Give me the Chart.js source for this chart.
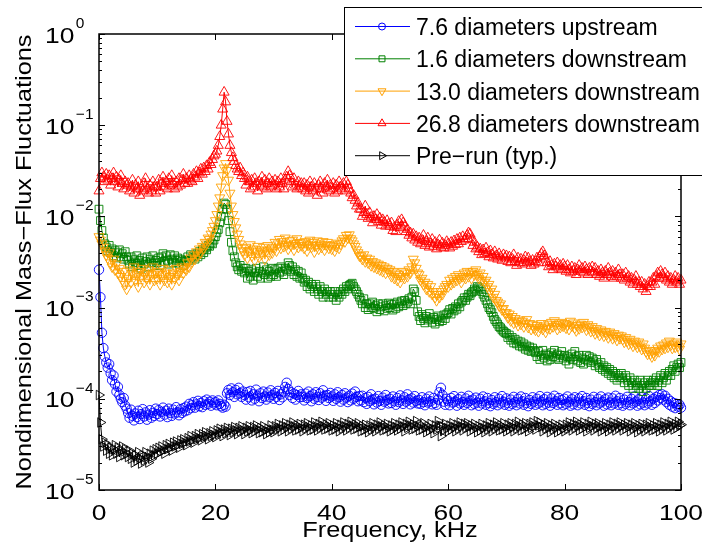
<!DOCTYPE html>
<html><head><meta charset="utf-8">
<script src="https://cdn.jsdelivr.net/npm/chart.js@4.4.1/dist/chart.umd.min.js"></script>
<style>html,body{margin:0;padding:0;background:#fff;}#wrap{width:702px;height:553px;position:relative;}</style>
</head><body><div id="wrap"><canvas id="c" width="702" height="553"></canvas></div>
<script>
// Frequency grid, kHz
const freq = [
0,0.25,0.5,0.75,1,1.25,1.5,1.75,2,2.25,2.5,2.75,3,3.25,3.5,3.75,4,4.25,4.5,4.75,
5,5.25,5.5,5.75,6,6.25,6.5,6.75,7,7.25,7.5,7.75,8,8.25,8.5,8.75,9,9.25,9.5,9.75,
10,10.25,10.5,10.75,11,11.25,11.5,11.75,12,12.25,12.5,12.75,13,13.25,13.5,13.75,14,14.25,14.5,14.75,
15,15.25,15.5,15.75,16,16.25,16.5,16.75,17,17.25,17.5,17.75,18,18.25,18.5,18.75,19,19.25,19.5,19.75,
20,20.25,20.5,20.75,21,21.25,21.5,21.75,22,22.25,22.5,22.75,23,23.25,23.5,23.75,24,24.25,24.5,24.75,
25,25.25,25.5,25.75,26,26.25,26.5,26.75,27,27.25,27.5,27.75,28,28.25,28.5,28.75,29,29.25,29.5,29.75,
30,30.25,30.5,30.75,31,31.25,31.5,31.75,32,32.25,32.5,32.75,33,33.25,33.5,33.75,34,34.25,34.5,34.75,
35,35.25,35.5,35.75,36,36.25,36.5,36.75,37,37.25,37.5,37.75,38,38.25,38.5,38.75,39,39.25,39.5,39.75,
40,40.25,40.5,40.75,41,41.25,41.5,41.75,42,42.25,42.5,42.75,43,43.25,43.5,43.75,44,44.25,44.5,44.75,
45,45.25,45.5,45.75,46,46.25,46.5,46.75,47,47.25,47.5,47.75,48,48.25,48.5,48.75,49,49.25,49.5,49.75,
50,50.25,50.5,50.75,51,51.25,51.5,51.75,52,52.25,52.5,52.75,53,53.25,53.5,53.75,54,54.25,54.5,54.75,
55,55.25,55.5,55.75,56,56.25,56.5,56.75,57,57.25,57.5,57.75,58,58.25,58.5,58.75,59,59.25,59.5,59.75,
60,60.25,60.5,60.75,61,61.25,61.5,61.75,62,62.25,62.5,62.75,63,63.25,63.5,63.75,64,64.25,64.5,64.75,
65,65.25,65.5,65.75,66,66.25,66.5,66.75,67,67.25,67.5,67.75,68,68.25,68.5,68.75,69,69.25,69.5,69.75,
70,70.25,70.5,70.75,71,71.25,71.5,71.75,72,72.25,72.5,72.75,73,73.25,73.5,73.75,74,74.25,74.5,74.75,
75,75.25,75.5,75.75,76,76.25,76.5,76.75,77,77.25,77.5,77.75,78,78.25,78.5,78.75,79,79.25,79.5,79.75,
80,80.25,80.5,80.75,81,81.25,81.5,81.75,82,82.25,82.5,82.75,83,83.25,83.5,83.75,84,84.25,84.5,84.75,
85,85.25,85.5,85.75,86,86.25,86.5,86.75,87,87.25,87.5,87.75,88,88.25,88.5,88.75,89,89.25,89.5,89.75,
90,90.25,90.5,90.75,91,91.25,91.5,91.75,92,92.25,92.5,92.75,93,93.25,93.5,93.75,94,94.25,94.5,94.75,
95,95.25,95.5,95.75,96,96.25,96.5,96.75,97,97.25,97.5,97.75,98,98.25,98.5,98.75,99,99.25,99.5,99.75,
100];

// 7.6 diameters upstream
const upstream76 = [
2.6e-3,1.3e-3,5.3e-4,3.6e-4,2.9e-4,2.5e-4,2.2e-4,2.4e-4,1.9e-4,1.6e-4,1.8e-4,1.45e-4,1.2e-4,1.35e-4,1.1e-4,1.0e-4,9.2e-5,1.02e-4,8.4e-5,7.8e-5,
7.0e-5,6.2e-5,7.6e-5,6.5e-5,5.8e-5,6.9e-5,6.3e-5,7.4e-5,6.0e-5,6.8e-5,7.7e-5,6.4e-5,7.1e-5,5.9e-5,6.7e-5,7.5e-5,6.2e-5,7.0e-5,6.5e-5,7.8e-5,
6.8e-5,7.5e-5,6.4e-5,7.2e-5,8.0e-5,6.7e-5,7.4e-5,6.3e-5,7.8e-5,7.0e-5,6.5e-5,7.6e-5,6.9e-5,8.1e-5,7.1e-5,6.6e-5,7.7e-5,7.0e-5,7.9e-5,7.3e-5,
8.2e-5,7.5e-5,8.8e-5,7.9e-5,8.5e-5,9.2e-5,8.0e-5,8.7e-5,9.5e-5,8.3e-5,9.0e-5,8.1e-5,9.4e-5,8.6e-5,9.8e-5,8.8e-5,9.3e-5,8.4e-5,9.6e-5,8.9e-5,
9.2e-5,8.5e-5,9.6e-5,8.8e-5,8.3e-5,8.0e-5,8.6e-5,8.2e-5,1.15e-4,1.25e-4,1.1e-4,1.3e-4,1.18e-4,1.05e-4,1.25e-4,1.12e-4,1.32e-4,1.15e-4,1.05e-4,1.2e-4,
1.1e-4,9.8e-5,1.18e-4,1.04e-4,1.22e-4,9.6e-5,1.12e-4,1.0e-4,1.26e-4,1.08e-4,9.4e-5,1.15e-4,1.02e-4,1.2e-4,1.06e-4,9.8e-5,1.17e-4,1.04e-4,1.24e-4,1.1e-4,
1.0e-4,1.16e-4,1.05e-4,1.22e-4,9.7e-5,1.12e-4,1.04e-4,1.2e-4,1.35e-4,1.5e-4,1.28e-4,1.1e-4,1.18e-4,1.02e-4,1.14e-4,9.8e-5,1.1e-4,1.22e-4,1.04e-4,1.12e-4,
1.05e-4,9.6e-5,1.14e-4,1.02e-4,1.2e-4,1.07e-4,9.4e-5,1.12e-4,1.0e-4,1.18e-4,1.05e-4,9.7e-5,1.15e-4,1.03e-4,1.24e-4,1.08e-4,9.5e-5,1.1e-4,1.02e-4,1.16e-4,
1.06e-4,9.5e-5,1.12e-4,1.0e-4,1.18e-4,1.04e-4,9.3e-5,1.1e-4,9.8e-5,1.15e-4,1.03e-4,9.2e-5,1.08e-4,9.6e-5,1.14e-4,1.0e-4,1.2e-4,1.05e-4,9.4e-5,1.07e-4,
9.6e-5,1.08e-4,9.2e-5,1.02e-4,8.8e-5,1.05e-4,9.4e-5,1.12e-4,9.8e-5,8.7e-5,1.0e-4,9.1e-5,1.07e-4,9.5e-5,8.6e-5,1.03e-4,9.3e-5,1.1e-4,9.7e-5,8.9e-5,
1.0e-4,9.0e-5,1.06e-4,9.4e-5,8.6e-5,1.02e-4,9.2e-5,1.09e-4,9.6e-5,8.8e-5,1.04e-4,9.3e-5,1.12e-4,9.8e-5,8.7e-5,1.01e-4,9.1e-5,1.07e-4,9.5e-5,8.9e-5,
9.7e-5,8.8e-5,1.04e-4,9.2e-5,8.5e-5,1.0e-4,9.1e-5,1.06e-4,9.4e-5,8.7e-5,1.02e-4,9.0e-5,8.6e-5,9.8e-5,1.18e-4,1.32e-4,1.1e-4,9.3e-5,8.6e-5,1.0e-4,
9.4e-5,8.5e-5,1.02e-4,9.1e-5,1.07e-4,9.3e-5,8.4e-5,9.9e-5,8.9e-5,1.05e-4,9.2e-5,8.6e-5,1.01e-4,9.0e-5,1.08e-4,9.5e-5,8.5e-5,9.8e-5,8.8e-5,1.03e-4,
9.1e-5,8.4e-5,1.0e-4,8.9e-5,1.06e-4,9.4e-5,8.6e-5,1.02e-4,9.0e-5,8.3e-5,9.7e-5,8.8e-5,1.04e-4,9.2e-5,8.5e-5,1.0e-4,8.9e-5,1.07e-4,9.3e-5,8.6e-5,
1.01e-4,9.0e-5,8.4e-5,9.8e-5,8.8e-5,1.05e-4,9.2e-5,8.5e-5,1.0e-4,8.9e-5,1.06e-4,9.4e-5,8.6e-5,1.02e-4,9.0e-5,8.3e-5,9.7e-5,8.8e-5,1.04e-4,9.3e-5,
8.6e-5,1.0e-4,8.9e-5,1.07e-4,9.3e-5,8.5e-5,9.9e-5,8.8e-5,1.05e-4,9.1e-5,8.4e-5,1.01e-4,9.0e-5,1.08e-4,9.4e-5,8.6e-5,1.02e-4,8.9e-5,9.7e-5,8.5e-5,
1.0e-4,8.8e-5,1.06e-4,9.2e-5,8.4e-5,9.9e-5,8.7e-5,1.04e-4,9.3e-5,8.5e-5,1.01e-4,8.9e-5,1.07e-4,9.4e-5,8.6e-5,1.02e-4,9.0e-5,8.3e-5,9.8e-5,8.8e-5,
1.05e-4,9.2e-5,8.5e-5,1.0e-4,8.9e-5,1.06e-4,9.3e-5,8.4e-5,9.9e-5,8.7e-5,1.03e-4,9.1e-5,8.5e-5,1.01e-4,8.9e-5,1.08e-4,9.4e-5,8.6e-5,1.02e-4,9.0e-5,
8.4e-5,9.8e-5,8.8e-5,1.05e-4,9.2e-5,8.5e-5,1.0e-4,8.9e-5,1.06e-4,9.3e-5,8.4e-5,9.9e-5,8.7e-5,1.04e-4,9.1e-5,8.5e-5,1.01e-4,8.9e-5,1.07e-4,9.4e-5,
8.6e-5,1.0e-4,9.0e-5,1.05e-4,9.6e-5,1.1e-4,1.02e-4,1.12e-4,9.8e-5,1.08e-4,9.2e-5,1.0e-4,8.6e-5,9.4e-5,8.2e-5,9.0e-5,7.9e-5,8.8e-5,8.2e-5,8.6e-5,
8.0e-5];

// 1.6 diameters downstream
const down16 = [
.012,.0090,.0070,.0058,.0050,.0046,.0042,.0048,.0040,.0044,.0037,.0042,.0035,.0040,.0043,.0036,.0039,.0034,.0041,.0036,
.0033,.0030,.0036,.0028,.0034,.0031,.0037,.0029,.0033,.0027,.0035,.0030,.0032,.0036,.0028,.0034,.0031,.0037,.0029,.0033,
.0031,.0035,.0029,.0036,.0039,.0032,.0037,.0033,.0030,.0038,.0034,.0031,.0037,.0033,.0035,.0030,.0034,.0032,.0029,.0033,
.0032,.0036,.0033,.0038,.0035,.0037,.0034,.0039,.0036,.0041,.0038,.0043,.0040,.0045,.0043,.0048,.0047,.0051,.0050,.0055,
.0060,.0066,.0072,.0085,.0100,.012,.014,.0135,.012,.0090,.0068,.0052,.0042,.0036,.0031,.0028,.0026,.0029,.0025,.0027,
.0024,.0027,.0021,.0025,.0022,.0026,.0020,.0024,.0027,.0022,.0025,.0021,.0024,.0028,.0023,.0026,.0021,.0025,.0022,.0027,
.0023,.0026,.0022,.0027,.0024,.0028,.0025,.0023,.0027,.0026,.0031,.0029,.0025,.0028,.0023,.0026,.0022,.0025,.0021,.0024,
.0021,.0019,.0020,.0017,.0019,.0016,.0018,.0017,.0015,.0018,.0016,.0014,.0017,.0015,.0013,.0016,.0014,.0015,.0013,.0015,
.0014,.0013,.0015,.0012,.0014,.0013,.0015,.0014,.0016,.0015,.0017,.0016,.00175,.0018,.00185,.0017,.0016,.0015,.0014,.0013,
.0012,.0011,.00125,.001,.0011,.00095,.0011,.001,.00115,.00098,.00105,.0009,.0011,.00095,.00102,.0011,.00092,.00105,.00098,.00112,
.001,.00108,.00094,.0011,.00098,.00115,.00102,.0011,.00118,.00105,.0012,.0011,.00115,.00125,.0011,.0013,.0016,.0015,.0012,.0009,
.0008,.00072,.00084,.00076,.00068,.0008,.00073,.00086,.00075,.00069,.00078,.00066,.00074,.00081,.0007,.00077,.00072,.00083,.00076,.00085,
.00088,.00095,.00085,.00098,.00092,.00102,.00096,.0011,.00102,.00115,.0012,.00128,.0012,.0013,.0014,.00135,.00145,.0015,.0016,.00155,
.0017,.00165,.0016,.0015,.0014,.0013,.0012,.0011,.001,.00095,.00088,.0008,.00074,.0007,.00066,.00062,.0006,.00057,.00055,.00053,
.00052,.00047,.0005,.00044,.00047,.00041,.00045,.0004,.00043,.00038,.00042,.00037,.0004,.00035,.00038,.00034,.00037,.00033,.00036,.00034,
.00032,.00029,.00033,.00027,.0003,.00034,.00028,.00031,.00026,.0003,.00027,.00032,.00029,.00034,.00028,.00031,.00027,.0003,.00033,.00028,
.0003,.00026,.00029,.00024,.00028,.00031,.00027,.00033,.00029,.00026,.0003,.00025,.00028,.00024,.00027,.0003,.00026,.00029,.00025,.00028,
.00026,.00023,.00027,.00024,.00022,.00025,.00021,.00023,.0002,.00022,.00019,.00021,.00018,.0002,.00017,.00019,.00016,.00018,.00017,.00019,
.00017,.00015,.00018,.00016,.00014,.00017,.00015,.00013,.00016,.00014,.00015,.00013,.00016,.00014,.00012,.00015,.00013,.00016,.00014,.00015,
.00014,.00016,.00015,.00017,.00014,.00016,.00018,.00015,.00017,.00019,.00016,.00018,.0002,.00018,.00021,.00023,.0002,.00022,.00024,.00022,
.00025];

// 13.0 diameters downstream
const down130 = [
.0060,.0055,.0050,.0046,.0042,.0038,.0035,.0040,.0031,.0028,.0034,.0026,.0030,.0024,.0027,.0022,.0020,.0025,.0018,.0016,
.0021,.0026,.0019,.0024,.0028,.0020,.0023,.0017,.0025,.0022,.0027,.0019,.0024,.0021,.0026,.0018,.0023,.0028,.0020,.0024,
.0021,.0025,.0018,.0023,.0027,.0020,.0024,.0019,.0026,.0022,.0018,.0024,.0021,.0027,.0023,.0020,.0025,.0028,.0024,.0027,
.0026,.0031,.0028,.0035,.0032,.0038,.0034,.0041,.0037,.0044,.0040,.0047,.0045,.0052,.0050,.0058,.0056,.0064,.0070,.0078,
.0090,.0105,.013,.016,.021,.028,.034,.038,.032,.025,.018,.013,.0105,.0088,.0075,.0064,.0056,.0050,.0045,.0042,
.0038,.0046,.0035,.0042,.0049,.0037,.0044,.0033,.0041,.0047,.0036,.0043,.0039,.0046,.0034,.0042,.0048,.0038,.0044,.0040,
.0046,.0052,.0042,.0050,.0056,.0045,.0053,.0047,.0058,.0049,.0044,.0054,.0048,.0055,.0043,.0051,.0057,.0046,.0052,.0048,
.0051,.0045,.0053,.0042,.0049,.0055,.0046,.0052,.0041,.0048,.0054,.0044,.0050,.0046,.0053,.0043,.0049,.0052,.0045,.0048,
.0044,.0049,.0042,.0047,.0051,.0045,.0050,.0054,.0057,.0053,.0062,.0058,.0063,.0057,.0054,.0050,.0047,.0043,.0040,.0037,
.0037,.0034,.0038,.0032,.0035,.0031,.0034,.0029,.0032,.0028,.0031,.0027,.0030,.0026,.0029,.0025,.0028,.0024,.0027,.0025,
.0026,.0022,.0025,.0021,.0024,.0020,.0023,.0019,.0022,.0025,.0021,.0024,.0022,.0026,.0024,.0028,.0034,.0031,.0027,.0024,
.0023,.0020,.0021,.0018,.0019,.0016,.0018,.0015,.0017,.0014,.0015,.0013,.0012,.0014,.0013,.0015,.0014,.0016,.0017,.0018,
.0017,.0020,.0018,.0021,.0019,.0022,.0020,.0023,.0021,.0019,.0022,.0024,.0021,.0025,.0022,.0024,.0021,.0025,.0023,.0026,
.0023,.0021,.0024,.0020,.0022,.0019,.0020,.0017,.0018,.0015,.0016,.0013,.0014,.0012,.00115,.00105,.0011,.00095,.00098,.00088,
.00088,.00078,.00085,.00072,.0008,.00068,.00076,.0007,.00064,.00073,.00066,.00071,.00062,.00068,.00074,.00061,.00067,.00058,.00065,.0006,
.00057,.00064,.00055,.00061,.00067,.00058,.00063,.00054,.0006,.00066,.00059,.00069,.00062,.00072,.00065,.00058,.00066,.00061,.00069,.00063,
.00067,.0006,.00065,.00058,.00071,.00063,.00068,.0006,.00056,.00064,.00059,.00066,.00061,.00069,.00063,.00057,.00065,.0006,.00055,.00062,
.00056,.00052,.00059,.00054,.0005,.00057,.00053,.00049,.00055,.00051,.00047,.00054,.0005,.00046,.00052,.00048,.00044,.0005,.00046,.00049,
.00045,.00042,.00047,.00043,.0004,.00045,.00041,.00038,.00043,.0004,.00037,.00042,.00038,.00035,.0004,.00036,.00033,.00031,.00034,.00031,
.00029,.00032,.0003,.00034,.00036,.00033,.00038,.00035,.00039,.00036,.00041,.00037,.00043,.00039,.00036,.0004,.00037,.00042,.00038,.00035,
.0004];

// 26.8 diameters downstream
const down268 = [
.019,.026,.030,.027,.024,.029,.025,.028,.022,.026,.030,.024,.027,.021,.025,.028,.023,.020,.024,.022,
.023,.019,.021,.025,.018,.022,.020,.024,.017,.021,.019,.023,.026,.020,.018,.022,.019,.024,.021,.018,
.021,.025,.019,.023,.027,.021,.024,.020,.026,.022,.028,.023,.020,.024,.021,.026,.022,.025,.029,.023,
.026,.023,.028,.025,.024,.029,.027,.031,.026,.030,.033,.029,.034,.031,.036,.033,.039,.037,.042,.046,
.048,.052,.060,.075,.10,.15,.23,.18,.11,.080,.060,.050,.044,.040,.036,.033,.031,.034,.028,.030,
.026,.022,.027,.024,.020,.025,.021,.026,.023,.019,.024,.022,.027,.021,.025,.020,.023,.026,.021,.024,
.022,.025,.020,.024,.021,.026,.023,.020,.025,.027,.031,.028,.024,.021,.026,.022,.020,.024,.021,.023,
.020,.023,.019,.022,.018,.024,.021,.019,.023,.020,.017,.022,.024,.020,.018,.023,.021,.025,.019,.022,
.020,.023,.018,.022,.019,.024,.021,.020,.023,.019,.024,.022,.020,.018,.016,.017,.015,.013,.014,.012,
.012,.010,.011,.013,.0105,.0095,.011,.0098,.0085,.010,.0092,.0105,.0088,.0096,.008,.0092,.0086,.0078,.009,.0082,
.0078,.0085,.007,.0076,.0068,.008,.0088,.0075,.0092,.0085,.0078,.0068,.0072,.0062,.0066,.0058,.0064,.0055,.006,.0052,
.0058,.005,.0055,.0062,.0048,.0053,.0058,.0046,.005,.0056,.0047,.0052,.0044,.0049,.0055,.0046,.0051,.0045,.0048,.0053,
.005,.0045,.0052,.0047,.0054,.0049,.0056,.005,.0058,.0053,.006,.0055,.0057,.0062,.0066,.0064,.0056,.0048,.0052,.0044,
.0046,.0041,.0044,.0038,.0043,.0039,.0045,.004,.0036,.0042,.0038,.0035,.0041,.0037,.0034,.0039,.0036,.0033,.0038,.0035,
.0037,.0032,.0036,.0031,.0034,.0038,.0032,.0029,.0035,.0031,.0034,.003,.0033,.0036,.0031,.0035,.0032,.0029,.0033,.003,
.0032,.0035,.0031,.0036,.0039,.0041,.0037,.0034,.0031,.0028,.0032,.0029,.0026,.003,.0028,.0031,.0027,.0029,.0026,.003,
.0028,.0025,.0029,.0026,.0024,.0028,.0025,.0027,.0023,.0026,.0029,.0025,.0027,.0024,.0028,.0026,.0023,.0027,.0025,.0028,
.0024,.0027,.0023,.0025,.0022,.0026,.0024,.0021,.0025,.0023,.0027,.0024,.0022,.0025,.0021,.0024,.0022,.0026,.0023,.0021,
.0023,.002,.0024,.0021,.0022,.0019,.0021,.0018,.002,.0022,.0018,.0019,.0017,.0019,.0016,.0018,.0015,.0017,.0019,.0017,
.0019,.0021,.0018,.0022,.0024,.0021,.0025,.0023,.0021,.0024,.002,.0022,.0019,.0021,.0018,.002,.0022,.0019,.0021,.0018,
.002];

// Pre-run (typ.)
const preRun = [
1.1e-4,5.5e-5,3.6e-5,3.0e-5,3.3e-5,2.7e-5,3.1e-5,2.5e-5,2.9e-5,2.4e-5,2.8e-5,3.1e-5,2.5e-5,2.9e-5,2.3e-5,2.7e-5,3.0e-5,2.4e-5,2.8e-5,2.5e-5,
2.3e-5,2.7e-5,2.2e-5,2.5e-5,2.0e-5,2.4e-5,2.1e-5,2.6e-5,2.2e-5,1.95e-5,2.4e-5,2.1e-5,2.6e-5,2.3e-5,2.0e-5,2.5e-5,2.2e-5,2.7e-5,2.4e-5,2.8e-5,
2.5e-5,2.9e-5,2.6e-5,3.0e-5,2.7e-5,2.5e-5,3.1e-5,2.8e-5,3.2e-5,2.9e-5,2.7e-5,3.3e-5,3.0e-5,3.4e-5,3.1e-5,2.9e-5,3.5e-5,3.2e-5,3.6e-5,3.3e-5,
3.1e-5,3.7e-5,3.4e-5,3.9e-5,3.5e-5,3.3e-5,3.9e-5,3.6e-5,4.1e-5,3.7e-5,3.5e-5,4.1e-5,3.8e-5,4.3e-5,3.9e-5,3.6e-5,4.2e-5,3.9e-5,4.4e-5,4.0e-5,
3.8e-5,4.5e-5,4.1e-5,4.7e-5,4.3e-5,3.9e-5,4.6e-5,4.2e-5,4.8e-5,4.4e-5,4.0e-5,4.7e-5,4.3e-5,4.9e-5,4.5e-5,4.1e-5,4.8e-5,4.4e-5,5.0e-5,4.5e-5,
4.1e-5,4.8e-5,4.4e-5,5.0e-5,4.5e-5,4.2e-5,4.9e-5,4.4e-5,5.1e-5,4.6e-5,4.2e-5,4.8e-5,4.3e-5,5.0e-5,4.5e-5,4.1e-5,4.7e-5,4.3e-5,5.1e-5,4.6e-5,
4.3e-5,5.0e-5,4.6e-5,5.3e-5,4.8e-5,4.4e-5,5.1e-5,4.6e-5,5.4e-5,4.9e-5,4.4e-5,5.2e-5,4.7e-5,5.5e-5,5.0e-5,4.5e-5,5.1e-5,4.6e-5,5.3e-5,4.8e-5,
4.4e-5,5.2e-5,4.7e-5,5.4e-5,4.9e-5,4.5e-5,5.1e-5,4.6e-5,5.5e-5,5.0e-5,4.5e-5,5.3e-5,4.8e-5,5.6e-5,5.0e-5,4.6e-5,5.2e-5,4.7e-5,5.4e-5,4.9e-5,
4.5e-5,5.1e-5,4.6e-5,5.4e-5,4.9e-5,4.4e-5,5.2e-5,4.7e-5,5.5e-5,5.0e-5,4.5e-5,5.3e-5,4.8e-5,5.6e-5,5.1e-5,4.6e-5,5.2e-5,4.7e-5,5.4e-5,4.9e-5,
4.4e-5,5.0e-5,4.5e-5,5.2e-5,4.7e-5,4.3e-5,5.1e-5,4.6e-5,5.4e-5,4.9e-5,4.4e-5,5.2e-5,4.7e-5,5.5e-5,5.0e-5,4.5e-5,5.1e-5,4.6e-5,5.3e-5,4.8e-5,
4.4e-5,5.1e-5,4.6e-5,5.4e-5,4.9e-5,4.5e-5,5.2e-5,4.7e-5,5.5e-5,5.0e-5,4.4e-5,5.3e-5,4.8e-5,5.6e-5,5.1e-5,4.6e-5,5.2e-5,4.7e-5,5.7e-5,5.0e-5,
4.5e-5,5.2e-5,4.6e-5,5.4e-5,4.8e-5,4.3e-5,5.0e-5,4.5e-5,5.3e-5,4.7e-5,4.2e-5,5.1e-5,4.6e-5,5.7e-5,5.1e-5,3.9e-5,5.0e-5,4.5e-5,5.3e-5,4.8e-5,
4.4e-5,5.1e-5,4.6e-5,5.4e-5,4.9e-5,4.4e-5,5.2e-5,4.7e-5,5.5e-5,5.0e-5,4.5e-5,5.3e-5,4.8e-5,5.4e-5,4.9e-5,4.4e-5,5.1e-5,4.6e-5,5.3e-5,4.8e-5,
4.3e-5,5.0e-5,4.5e-5,5.3e-5,4.8e-5,4.3e-5,5.1e-5,4.6e-5,5.4e-5,4.9e-5,4.4e-5,5.2e-5,4.7e-5,5.5e-5,5.0e-5,4.5e-5,5.1e-5,4.6e-5,5.4e-5,4.8e-5,
4.4e-5,5.2e-5,4.6e-5,5.4e-5,4.9e-5,4.4e-5,5.3e-5,4.7e-5,5.6e-5,5.0e-5,4.5e-5,5.2e-5,4.6e-5,5.4e-5,4.9e-5,4.4e-5,5.3e-5,4.8e-5,5.5e-5,5.0e-5,
4.6e-5,5.7e-5,5.1e-5,5.5e-5,4.9e-5,4.4e-5,5.2e-5,4.7e-5,5.4e-5,4.8e-5,4.3e-5,5.1e-5,4.6e-5,5.3e-5,4.8e-5,4.3e-5,5.0e-5,4.5e-5,5.2e-5,4.7e-5,
4.4e-5,5.2e-5,4.7e-5,5.5e-5,5.0e-5,4.5e-5,5.3e-5,4.8e-5,5.6e-5,5.1e-5,4.5e-5,5.2e-5,4.7e-5,5.5e-5,4.9e-5,4.4e-5,5.3e-5,4.8e-5,5.6e-5,5.0e-5,
4.5e-5,5.3e-5,4.8e-5,5.4e-5,4.9e-5,4.4e-5,5.1e-5,4.6e-5,5.4e-5,4.9e-5,4.4e-5,5.2e-5,4.7e-5,5.5e-5,5.0e-5,4.5e-5,5.3e-5,4.8e-5,5.5e-5,5.0e-5,
4.5e-5,5.2e-5,4.7e-5,5.4e-5,4.9e-5,4.4e-5,5.2e-5,4.7e-5,5.4e-5,4.9e-5,4.3e-5,5.1e-5,4.6e-5,5.3e-5,4.8e-5,4.4e-5,5.2e-5,4.7e-5,5.4e-5,4.9e-5,
4.5e-5,5.1e-5,4.6e-5,5.4e-5,4.9e-5,4.4e-5,5.2e-5,4.7e-5,5.5e-5,5.0e-5,4.5e-5,5.3e-5,4.8e-5,5.6e-5,5.1e-5,4.6e-5,5.3e-5,4.8e-5,5.6e-5,5.1e-5,
5.2e-5];

const seriesLabels = ['7.6 diameters upstream','1.6 diameters downstream','13.0 diameters downstream','26.8 diameters downstream','Pre\u2212run (typ.)'];
const xTickValues = [0,20,40,60,80,100];
const yTickExponents = [-5,-4,-3,-2,-1,0];
const xTitle = 'Frequency, kHz';
const yTitle = 'Nondimensional Mass\u2212Flux Fluctuations';

const FONT = '"Liberation Sans", Arial, Helvetica, sans-serif';
const styles = [
  {color:'#0000FF', pointStyle:'circle', rotation:0, radius:4.7, legendRadius:3.5},
  {color:'#008000', pointStyle:'rect', rotation:0, radius:5.5, legendRadius:4.2},
  {color:'#FFA000', pointStyle:'triangle', rotation:180, radius:5.8, legendRadius:4.6},
  {color:'#FF0000', pointStyle:'triangle', rotation:0, radius:5.8, legendRadius:4.6},
  {color:'#000000', pointStyle:'triangle', rotation:90, radius:5.5, legendRadius:4.6}
];
const seriesValues = [upstream76, down16, down130, down268, preRun];

const datasets = seriesValues.map((vals, i) => ({
  label: seriesLabels[i],
  data: freq.map((f, k) => ({x: f, y: vals[k]})),
  borderColor: styles[i].color,
  borderWidth: 1,
  pointStyle: styles[i].pointStyle,
  pointRotation: styles[i].rotation,
  pointRadius: styles[i].radius,
  pointBorderWidth: 0.9,
  pointBorderColor: styles[i].color,
  pointBackgroundColor: 'rgba(0,0,0,0)',
  tension: 0,
  clip: false,
  order: 5 - i
}));

function drawText(ctx, s, x, y, size, align, sx) {
  ctx.save();
  ctx.translate(x, y);
  ctx.scale(sx, 1);
  ctx.font = size + 'px ' + FONT;
  ctx.textAlign = align;
  ctx.textBaseline = 'alphabetic';
  ctx.fillStyle = '#000';
  ctx.fillText(s, 0, 0);
  ctx.restore();
}

const decor = {
  id: 'decor',
  afterDraw(chart) {
    const ctx = chart.ctx;
    const a = chart.chartArea;
    const xs = chart.scales.x, ys = chart.scales.y;
    ctx.save();
    ctx.strokeStyle = '#000';
    ctx.lineWidth = 1;
    ctx.beginPath();
    xTickValues.forEach(v => {
      const px = Math.round(xs.getPixelForValue(v)) + 0.5;
      ctx.moveTo(px, a.bottom); ctx.lineTo(px, a.bottom - 6);
      ctx.moveTo(px, a.top); ctx.lineTo(px, a.top + 6);
    });
    yTickExponents.forEach(e => {
      const py = Math.round(ys.getPixelForValue(Math.pow(10, e))) + 0.5;
      ctx.moveTo(a.left, py); ctx.lineTo(a.left + 6, py);
      ctx.moveTo(a.right, py); ctx.lineTo(a.right - 6, py);
      if (e < 0) {
        for (let m = 2; m <= 9; m++) {
          const pm = Math.round(ys.getPixelForValue(m * Math.pow(10, e))) + 0.5;
          ctx.moveTo(a.left, pm); ctx.lineTo(a.left + 3, pm);
          ctx.moveTo(a.right, pm); ctx.lineTo(a.right - 3, pm);
        }
      }
    });
    ctx.stroke();
    ctx.lineWidth = 1.5;
    ctx.strokeRect(a.left, a.top, a.right - a.left, a.bottom - a.top);
    ctx.restore();

    xTickValues.forEach(v => {
      drawText(ctx, String(v), xs.getPixelForValue(v), 520, 22, 'center', 1.2);
    });
    ctx.save();
    ctx.font = '22px ' + FONT;
    const w10 = ctx.measureText('10').width * 1.2;
    ctx.restore();
    yTickExponents.forEach(e => {
      const py = ys.getPixelForValue(Math.pow(10, e));
      drawText(ctx, '10', 45, py + 8.5, 22, 'left', 1.2);
      drawText(ctx, e === 0 ? '0' : '\u2212' + Math.abs(e), 45 + w10 + 1.5, py - 6.3, 15, 'left', 1.03);
    });
    drawText(ctx, xTitle, (a.left + a.right) / 2, 537, 22, 'center', 1.15);
    ctx.save();
    ctx.translate(31, (a.top + a.bottom) / 2);
    ctx.rotate(-Math.PI / 2);
    ctx.scale(1.15, 1);
    ctx.font = '22px ' + FONT;
    ctx.textAlign = 'center';
    ctx.textBaseline = 'alphabetic';
    ctx.fillStyle = '#000';
    ctx.fillText(yTitle, 0, 0);
    ctx.restore();

    ctx.save();
    ctx.fillStyle = '#fff';
    ctx.fillRect(344.5, 7.5, 380, 168);
    ctx.strokeStyle = '#000';
    ctx.lineWidth = 1;
    ctx.strokeRect(344.5, 7.5, 380, 168);
    chart.data.datasets.forEach((ds, i) => {
      const y = 26.5 + i * 32.3;
      const st = styles[i];
      ctx.strokeStyle = st.color;
      ctx.lineWidth = 1;
      ctx.beginPath();
      ctx.moveTo(355, y); ctx.lineTo(410, y);
      ctx.stroke();
      ctx.fillStyle = 'rgba(0,0,0,0)';
      Chart.helpers.drawPoint(ctx, {pointStyle: st.pointStyle, rotation: st.rotation, radius: st.legendRadius, borderWidth: 1}, 382, y);
      drawText(ctx, ds.label, 416, y + 8.5, 23, 'left', 1.0);
    });
    ctx.restore();
  }
};

new Chart(document.getElementById('c'), {
  type: 'line',
  data: { datasets },
  options: {
    responsive: false,
    animation: false,
    devicePixelRatio: 1,
    events: [],
    layout: { padding: { left: 99, right: 21, top: 34, bottom: 63 } },
    plugins: { legend: { display: false }, tooltip: { enabled: false } },
    scales: {
      x: { type: 'linear', min: 0, max: 100, display: false },
      y: { type: 'logarithmic', min: 1e-5, max: 1, display: false }
    }
  },
  plugins: [decor]
});
</script>
</body></html>
